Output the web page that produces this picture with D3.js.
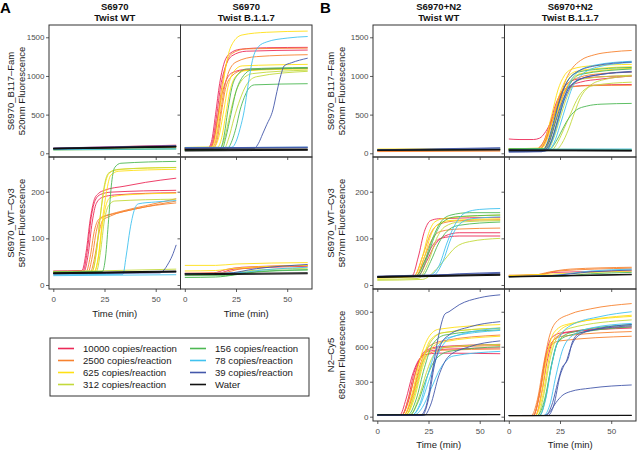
<!DOCTYPE html>
<html><head><meta charset="utf-8">
<script src="https://cdn.jsdelivr.net/npm/d3@7"></script>
<style>body{margin:0;background:#fff} svg text{font-family:"Liberation Sans",Arial,sans-serif}</style>
</head><body><script>
// ---------- data ----------
const seriesNames = ["10000 copies/reaction","2500 copies/reaction","625 copies/reaction","312 copies/reaction","156 copies/reaction","78 copies/reaction","39 copies/reaction","Water"];
const seriesColors = ["#EC2A58","#F7822F","#FFE014","#C3D93B","#4DB853","#41C2EF","#4458AA","#111111"];
const timeTicks = [0,25,50];
const famTicks = [0,500,1000,1500];
const cy3Ticks = [0,100,200];
const cy5Ticks = [0,300,600,900];
const colTitlesA = [["S6970","Twist WT"],["S6970","Twist B.1.1.7"]];
const colTitlesB = [["S6970+N2","Twist WT"],["S6970+N2","Twist B.1.1.7"]];
const rowTitles = [["S6970_B117\u2013Fam","520nm Fluorescence"],["S6970_WT\u2013Cy3","587nm Fluorescence"],["N2\u2013Cy5","682nm Fluorescence"]];

// each curve: [series index, [[time, fluorescence], ...]]
const famWT_A = [
 [0,[[0,65],[30,85],[60,105]]],[1,[[0,58],[60,85]]],[2,[[0,60],[60,80]]],[3,[[0,48],[60,65]]],
 [4,[[0,42],[60,55]]],[5,[[0,48],[60,58]]],[6,[[0,68],[60,100]]],[6,[[0,62],[60,88]]],
 [7,[[0,60],[60,86]]],[7,[[0,64],[60,90]]],[7,[[0,57],[60,82]]]
];
const famB117_A = [
 [0,[[0,55],[11,58],[13,150],[15,500],[17,900],[19,1150],[22,1290],[27,1345],[40,1365],[60,1370]]],
 [0,[[0,55],[11.5,58],[13.5,150],[15.5,480],[17.5,870],[20,1130],[23,1260],[30,1320],[60,1335]]],
 [0,[[0,55],[12,58],[14,150],[16,450],[18,750],[20,930],[23,1040],[30,1085],[60,1100]]],
 [1,[[0,60],[12,62],[14,150],[16,450],[18,850],[20,1130],[23,1290],[30,1350],[60,1360]]],
 [1,[[0,60],[13,62],[15,150],[17,450],[19,800],[21,1020],[25,1180],[35,1250],[60,1275]]],
 [1,[[0,60],[14,62],[16,200],[18,550],[20,850],[23,1000],[28,1070],[60,1100]]],
 [2,[[0,75],[13,78],[15,200],[17,550],[19,950],[21,1250],[24,1450],[28,1530],[40,1565],[60,1580]]],
 [2,[[0,75],[14,78],[16.5,200],[19,550],[21,850],[24,1060],[28,1130],[60,1150]]],
 [2,[[0,75],[16,78],[18,200],[20,500],[22,800],[25,1000],[30,1070],[60,1090]]],
 [3,[[0,50],[17,52],[19.5,200],[22,500],[25,800],[28,950],[33,1030],[60,1075]]],
 [3,[[0,50],[19,52],[21.5,200],[24,450],[27,700],[30,880],[35,990],[60,1060]]],
 [4,[[0,40],[17,42],[19,200],[21,550],[23,850],[26,1020],[30,1090],[60,1110]]],
 [4,[[0,40],[18,42],[20,200],[22.5,500],[25,800],[28,980],[33,1080],[60,1100]]],
 [4,[[0,40],[20,42],[22,100],[25,330],[27,560],[29,720],[31,830],[34,885],[60,900]]],
 [5,[[0,75],[23,78],[25,150],[27,320],[29,550],[31,900],[33,1200],[36,1380],[40,1440],[50,1490],[60,1510]]],
 [5,[[0,72],[60,78]]],
 [6,[[0,65],[34,68],[36,130],[38,250],[40,370],[43,560],[45,800],[47,1020],[48.5,1130],[52,1170],[60,1230]]],
 [6,[[0,70],[60,80]]],[6,[[0,67],[60,75]]],
 [7,[[0,30],[60,40]]],[7,[[0,40],[60,48]]],[7,[[0,50],[60,56]]]
];
const cy3WT_A = [
 [0,[[0,30],[14,31],[16,70],[18,140],[20,183],[22,196],[25,203],[35,212],[45,220],[60,229]]],
 [0,[[0,29],[14.5,30],[16.5,70],[18.5,145],[20.5,182],[23,194],[28,199],[60,203]]],
 [0,[[0,28],[15,29],[17,65],[19,135],[21,175],[24,188],[30,193],[60,198]]],
 [1,[[0,27],[16,28],[18,60],[20,115],[22,140],[25,148],[30,153],[40,163],[60,180]]],
 [1,[[0,27],[17,28],[19,60],[21,115],[23,142],[27,150],[35,160],[45,170],[60,185]]],
 [1,[[0,26],[18,27],[20,55],[22,105],[24,138],[28,148],[40,163],[60,176]]],
 [2,[[0,28],[19,29],[21,70],[23,150],[25,210],[27,238],[30,246],[40,250],[60,252]]],
 [2,[[0,28],[20,29],[22,60],[24,140],[26,200],[28,235],[32,244],[60,248]]],
 [2,[[0,27],[20,28],[22,60],[24,130],[26,175],[28,188],[35,193],[60,197]]],
 [3,[[0,29],[19,30],[21,70],[23,150],[25,215],[27,240],[32,248],[60,252]]],
 [3,[[0,28],[21,29],[23,70],[25,140],[27,170],[30,180],[60,184]]],
 [3,[[0,28],[60,34]]],
 [4,[[0,28],[24,29],[25.5,60],[27,140],[28.5,220],[30,252],[33,261],[60,265]]],
 [5,[[0,22],[34,23],[35.5,60],[37.5,120],[39.5,160],[41.5,174],[50,178],[60,181]]],
 [5,[[0,20],[60,22]]],
 [6,[[0,24],[52,26],[54,32],[56,45],[58,62],[60,86]]],[6,[[0,25],[60,28]]],
 [7,[[0,24],[60,28]]],[7,[[0,26],[60,30]]],[7,[[0,25],[60,29]]]
];
const cy3B117_A = [
 [0,[[0,25],[14,26],[20,33],[28,38],[60,42]]],[0,[[0,24],[16,25],[24,34],[60,40]]],
 [1,[[0,25],[18,26],[28,35],[60,42]]],
 [2,[[0,42],[15,42],[25,45],[60,48]]],[2,[[0,30],[15,31],[25,36],[60,42]]],
 [3,[[0,22],[20,23],[30,30],[60,36]]],
 [4,[[0,16],[15,17],[25,22],[35,28],[60,32]]],[4,[[0,20],[20,20],[30,27],[60,33]]],
 [5,[[0,24],[25,26],[40,33],[60,38]]],
 [6,[[0,24],[20,25],[35,35],[60,44]]],
 [7,[[0,22],[60,24]]],[7,[[0,24],[60,26]]]
];
const famWT_B = [
 [0,[[0,30],[60,40]]],[1,[[0,22],[60,28]]],[2,[[0,55],[60,62]]],[3,[[0,35],[60,45]]],
 [4,[[0,40],[60,50]]],[5,[[0,45],[60,55]]],[6,[[0,45],[60,72]]],[6,[[0,40],[60,65]]],
 [7,[[0,38],[60,45]]],[7,[[0,42],[60,48]]]
];
const famB117_B = [
 [0,[[0,185],[5,178],[12,178],[15,195],[18,280],[21,430],[24,620],[27,780],[30,870],[35,920],[45,960],[60,1000]]],
 [0,[[0,55],[14,58],[17,150],[20,380],[23,640],[26,800],[30,860],[40,880],[60,890]]],
 [0,[[0,50],[15,55],[18,170],[21,420],[24,680],[27,850],[32,950],[45,990],[60,1000]]],
 [1,[[0,45],[13,50],[16,110],[19,250],[22,470],[25,720],[28,960],[31,1100],[35,1200],[42,1275],[50,1310],[60,1330]]],
 [1,[[0,50],[15,55],[18,150],[21,400],[24,650],[27,800],[31,860],[40,875],[60,880]]],
 [1,[[0,50],[17,55],[20,180],[23,450],[26,700],[29,880],[34,980],[45,1030],[60,1050]]],
 [2,[[0,60],[15,65],[18,200],[21,500],[24,820],[27,1000],[31,1090],[40,1130],[60,1150]]],
 [2,[[0,60],[16,65],[19,200],[22,500],[25,780],[28,960],[33,1060],[45,1100],[60,1120]]],
 [2,[[0,55],[17,60],[20,180],[23,450],[26,720],[29,900],[35,1030],[60,1100]]],
 [3,[[0,40],[21,45],[24,150],[27,320],[30,500],[33,680],[36,800],[42,880],[60,920]]],
 [3,[[0,40],[23,45],[26,130],[29,300],[32,520],[35,720],[39,860],[46,950],[60,1000]]],
 [3,[[0,45],[19,50],[22,200],[25,450],[28,700],[31,870],[36,960],[60,1010]]],
 [4,[[0,55],[17,60],[20,200],[23,500],[26,780],[29,950],[34,1050],[45,1090],[60,1110]]],
 [4,[[0,55],[18,60],[21,180],[24,450],[27,720],[30,900],[35,1020],[60,1090]]],
 [4,[[0,50],[20,55],[23,150],[26,300],[28,400],[30,480],[33,560],[38,610],[45,635],[60,645]]],
 [4,[[0,55],[60,50]]],
 [5,[[0,30],[18,35],[21,150],[24,400],[27,700],[30,920],[34,1060],[42,1140],[60,1190]]],
 [5,[[0,30],[19,35],[22,130],[25,360],[28,620],[31,850],[35,1000],[44,1120],[60,1175]]],
 [5,[[0,50],[60,55]]],
 [6,[[0,15],[16,20],[19,150],[22,420],[25,700],[28,900],[32,1030],[42,1130],[60,1180]]],
 [6,[[0,20],[17,25],[20,160],[23,420],[26,660],[29,830],[34,950],[45,1020],[60,1050]]],
 [6,[[0,25],[18,30],[21,170],[24,430],[27,680],[30,850],[35,960],[45,1020],[60,1060]]],
 [7,[[0,35],[60,30]]],[7,[[0,40],[60,35]]],[7,[[0,46],[60,40]]]
];
const cy3WT_B = [
 [0,[[0,18],[17,20],[20,60],[23,115],[26,138],[30,142],[60,145]]],
 [0,[[0,18],[19,20],[23,50],[27,85],[31,100],[40,105],[60,105]]],
 [0,[[0,18],[20,20],[24,50],[28,85],[33,105],[40,112],[60,112]]],
 [1,[[0,18],[19,20],[23,60],[27,100],[31,115],[40,120],[60,122]]],
 [1,[[0,18],[18,20],[22,60],[26,110],[30,130],[40,138],[60,140]]],
 [2,[[0,15],[18,18],[22,60],[25,110],[28,135],[33,143],[60,150]]],
 [2,[[0,15],[19,18],[23,60],[26,105],[29,128],[35,138],[60,142]]],
 [3,[[0,10],[22,12],[28,30],[33,55],[38,80],[45,93],[60,100]]],
 [3,[[0,12],[20,14],[25,50],[29,100],[33,125],[40,135],[60,138]]],
 [4,[[0,18],[19,20],[23,50],[27,100],[31,135],[36,150],[45,155],[60,155]]],
 [4,[[0,18],[22,20],[26,50],[30,90],[34,115],[40,128],[60,135]]],
 [4,[[0,18],[20,20],[24,55],[28,105],[32,135],[38,146],[60,150]]],
 [5,[[0,18],[25,20],[30,40],[34,90],[38,130],[43,155],[50,162],[60,164]]],
 [5,[[0,18],[27,20],[32,50],[36,100],[40,130],[46,142],[60,146]]],
 [6,[[0,18],[20,19],[40,24],[60,27]]],[6,[[0,19],[30,22],[60,25]]],
 [7,[[0,16],[60,21]]],[7,[[0,17],[60,22]]],[7,[[0,18],[60,23]]]
];
const cy3B117_B = [
 [0,[[0,20],[15,22],[22,27],[60,30]]],
 [1,[[0,20],[12,21],[20,28],[30,34],[60,38]]],[1,[[0,21],[14,22],[24,30],[60,36]]],
 [2,[[0,20],[60,30]]],
 [4,[[0,18],[25,19],[40,24],[60,27]]],
 [5,[[0,18],[20,20],[40,30],[60,34]]],
 [6,[[0,18],[20,20],[40,28],[60,32]]],
 [7,[[0,17],[60,22]]],[7,[[0,18],[60,23]]]
];
const cy5WT_B = [
 [0,[[0,15],[11,15],[14,150],[17,350],[20,480],[23,530],[30,545],[60,540]]],
 [0,[[0,15],[12,15],[15,150],[18,380],[21,500],[25,560],[35,580],[60,590]]],
 [0,[[0,15],[12,15],[15,120],[19,400],[23,560],[30,600],[60,620]]],
 [1,[[0,15],[12,15],[16,200],[20,450],[24,560],[30,590],[60,610]]],
 [1,[[0,15],[13,15],[17,180],[21,450],[25,600],[32,650],[60,700]]],
 [1,[[0,15],[13,15],[17,160],[21,420],[25,540],[32,570],[60,580]]],
 [2,[[0,15],[13,15],[17,200],[21,500],[25,680],[30,750],[60,790]]],
 [2,[[0,15],[14,15],[18,200],[22,480],[26,660],[32,720],[60,760]]],
 [2,[[0,15],[14,15],[18,150],[22,420],[26,580],[32,640],[60,690]]],
 [3,[[0,15],[14,15],[18,180],[22,450],[26,640],[32,720],[60,760]]],
 [3,[[0,15],[16,15],[20,150],[24,380],[28,540],[35,600],[60,620]]],
 [4,[[0,15],[15,15],[19,150],[23,420],[27,620],[33,700],[60,745]]],
 [4,[[0,15],[16,15],[20,130],[24,330],[28,480],[35,560],[60,600]]],
 [5,[[0,15],[17,15],[21,100],[25,300],[30,550],[36,680],[60,760]]],
 [5,[[0,15],[18,15],[22,80],[26,230],[31,420],[37,520],[60,560]]],
 [5,[[0,15],[17,15],[21,120],[25,380],[29,580],[35,680],[60,740]]],
 [6,[[0,10],[21,12],[24,100],[27,400],[30,700],[33,880],[35,900],[40,960],[50,1020],[60,1045]]],
 [6,[[0,10],[22,12],[25,150],[28,450],[31,620],[35,700],[45,770],[60,815]]],
 [6,[[0,10],[23,12],[26,100],[30,350],[35,520],[45,600],[60,650]]],
 [7,[[0,14],[60,17]]],[7,[[0,16],[60,19]]]
];
const cy5B117_B = [
 [0,[[0,10],[12,10],[15,200],[18,520],[21,680],[26,720],[60,770]]],
 [0,[[0,10],[13,10],[16,200],[19,500],[22,660],[28,720],[60,760]]],
 [1,[[0,10],[11,10],[14,150],[17,450],[20,700],[23,810],[30,880],[40,925],[60,970]]],
 [1,[[0,10],[12,10],[15,200],[18,500],[21,620],[25,650],[60,690]]],
 [1,[[0,10],[12,10],[15,180],[18,480],[21,640],[26,690],[60,730]]],
 [2,[[0,10],[13,10],[16,200],[19,550],[22,720],[28,790],[60,860]]],
 [2,[[0,10],[13,10],[16.5,180],[20,530],[23,700],[30,790],[60,870]]],
 [3,[[0,10],[14,10],[17,180],[20,480],[23,660],[30,760],[60,830]]],
 [4,[[0,10],[14,10],[17.5,150],[21,450],[24,640],[30,720],[60,790]]],
 [4,[[0,10],[15,10],[18,160],[21,460],[24,640],[30,700],[60,770]]],
 [5,[[0,10],[15,10],[18,150],[21,450],[24,650],[30,780],[45,860],[60,900]]],
 [5,[[0,10],[17,10],[20,100],[23,350],[26,560],[30,680],[40,760],[60,800]]],
 [6,[[0,10],[18,10],[21,100],[24,300],[26,420],[28,470],[30,580],[33,680],[40,740],[60,790]]],
 [6,[[0,10],[19,10],[22,100],[25,350],[27,440],[29,500],[31,640],[35,720],[60,780]]],
 [6,[[0,10],[17,10],[20,40],[23,120],[26,180],[30,215],[40,245],[60,272]]],
 [7,[[0,8],[60,10]]],[7,[[0,10],[60,12]]]
];

// ---------- layout ----------
const W = 637, H = 452;
const svg = d3.select("body").append("svg").attr("width", W).attr("height", H);
const defs = svg.append("defs");
const rowY = [25, 157, 289];
const rowH = 132;
const colW = 131.5;
const xDomain = [-2.1, 62.1];
const rowDomains = [[-48, 1659], [-8.6, 274.4], [-37, 1095]];
const rowTicks = [famTicks, cy3Ticks, cy5Ticks];

const panels = [
  {fig:"A", col:0, row:0, x:49, data:famWT_A},
  {fig:"A", col:1, row:0, x:49+colW, data:famB117_A},
  {fig:"A", col:0, row:1, x:49, data:cy3WT_A, bottom:true},
  {fig:"A", col:1, row:1, x:49+colW, data:cy3B117_A, bottom:true},
  {fig:"B", col:0, row:0, x:373, data:famWT_B},
  {fig:"B", col:1, row:0, x:373+colW, data:famB117_B},
  {fig:"B", col:0, row:1, x:373, data:cy3WT_B},
  {fig:"B", col:1, row:1, x:373+colW, data:cy3B117_B},
  {fig:"B", col:0, row:2, x:373, data:cy5WT_B, bottom:true},
  {fig:"B", col:1, row:2, x:373+colW, data:cy5B117_B, bottom:true}
];

const tickCol = "#333";
panels.forEach((p, i) => {
  const y0 = rowY[p.row];
  const x = d3.scaleLinear().domain(xDomain).range([p.x, p.x + colW]);
  const y = d3.scaleLinear().domain(rowDomains[p.row]).range([y0 + rowH, y0]);
  const id = "clip" + i;
  defs.append("clipPath").attr("id", id).append("rect")
    .attr("x", p.x).attr("y", y0).attr("width", colW).attr("height", rowH);
  const line = d3.line().curve(d3.curveMonotoneX).x(d => x(d[0])).y(d => y(d[1]));
  const sorted = p.data.slice().sort((a, b) => a[0] - b[0]);
  svg.append("g").attr("clip-path", `url(#${id})`)
    .selectAll("path").data(sorted).join("path")
    .attr("d", d => line(d[1]))
    .attr("fill", "none")
    .attr("stroke", d => seriesColors[d[0]])
    .attr("stroke-width", d => d[0] === 7 ? 1.1 : 0.9);
  // axes
  const ya = d3.axisLeft(y).tickValues(rowTicks[p.row]).tickSize(3).tickPadding(1.5)
    .tickFormat(p.col === 0 ? d3.format("d") : () => "");
  const gy = svg.append("g").attr("transform", `translate(${p.x},0)`).call(ya);
  const xa = d3.axisBottom(x).tickValues(timeTicks).tickSize(3).tickPadding(4)
    .tickFormat(p.bottom ? d3.format("d") : () => "");
  const gx = svg.append("g").attr("transform", `translate(0,${y0 + rowH})`).call(xa);
  [gy, gx].forEach(g => {
    g.select(".domain").remove();
    g.selectAll("line").attr("stroke", tickCol).attr("stroke-width", 0.8);
    g.selectAll("text").attr("fill", "#4d4d4d").style("font-size", "8px")
      .style("font-family", '"Liberation Sans", Arial, sans-serif');
  });
  // border
  svg.append("rect").attr("x", p.x).attr("y", y0).attr("width", colW).attr("height", rowH)
    .attr("fill", "none").attr("stroke", "#333").attr("stroke-width", 1);
  if (p.bottom) {
    svg.append("text").attr("x", p.x + colW / 2).attr("y", y0 + rowH + (p.fig === "A" ? 27.5 : 27))
      .attr("text-anchor", "middle").style("font-size", "9.5px").attr("fill", "#1a1a1a")
      .text("Time (min)");
  }
  if (p.col === 0) {
    const t = rowTitles[p.row];
    const cx = p.fig === "A" ? [10, 21.5] : [330, 341];
    const cy = y0 + rowH / 2;
    t.forEach((s, k) => {
      svg.append("text").attr("transform", `translate(${cx[k] + 3.5},${cy}) rotate(-90)`)
        .attr("text-anchor", "middle").style("font-size", "9.5px").attr("fill", "#1a1a1a").text(s);
    });
  }
});

// column titles
[[colTitlesA, 49], [colTitlesB, 373]].forEach(([titles, x0]) => {
  titles.forEach((tt, c) => {
    tt.forEach((s, k) => {
      svg.append("text").attr("x", x0 + colW * c + colW / 2).attr("y", k === 0 ? 9.5 : 20.5)
        .attr("text-anchor", "middle").style("font-size", "9.5px").style("font-weight", "bold")
        .attr("fill", "#111").text(s);
    });
  });
});
svg.append("text").attr("x", 0).attr("y", 13).style("font-size", "15px").style("font-weight", "bold").text("A");
svg.append("text").attr("x", 320).attr("y", 13).style("font-size", "15px").style("font-weight", "bold").text("B");

// legend
const lg = svg.append("g");
lg.append("rect").attr("x", 50).attr("y", 338).attr("width", 259).attr("height", 58)
  .attr("fill", "#fff").attr("stroke", "#333").attr("stroke-width", 1);
seriesNames.forEach((n, i) => {
  const c = Math.floor(i / 4), r = i % 4;
  const lx = c === 0 ? 58 : 190;
  const ly = 348.5 + r * 12;
  lg.append("line").attr("x1", lx).attr("x2", lx + 16).attr("y1", ly).attr("y2", ly)
    .attr("stroke", seriesColors[i]).attr("stroke-width", 1.6);
  lg.append("text").attr("x", lx + 25).attr("y", ly + 3.4).style("font-size", "9.6px")
    .attr("fill", "#1a1a1a").text(n);
});
</script></body></html>
